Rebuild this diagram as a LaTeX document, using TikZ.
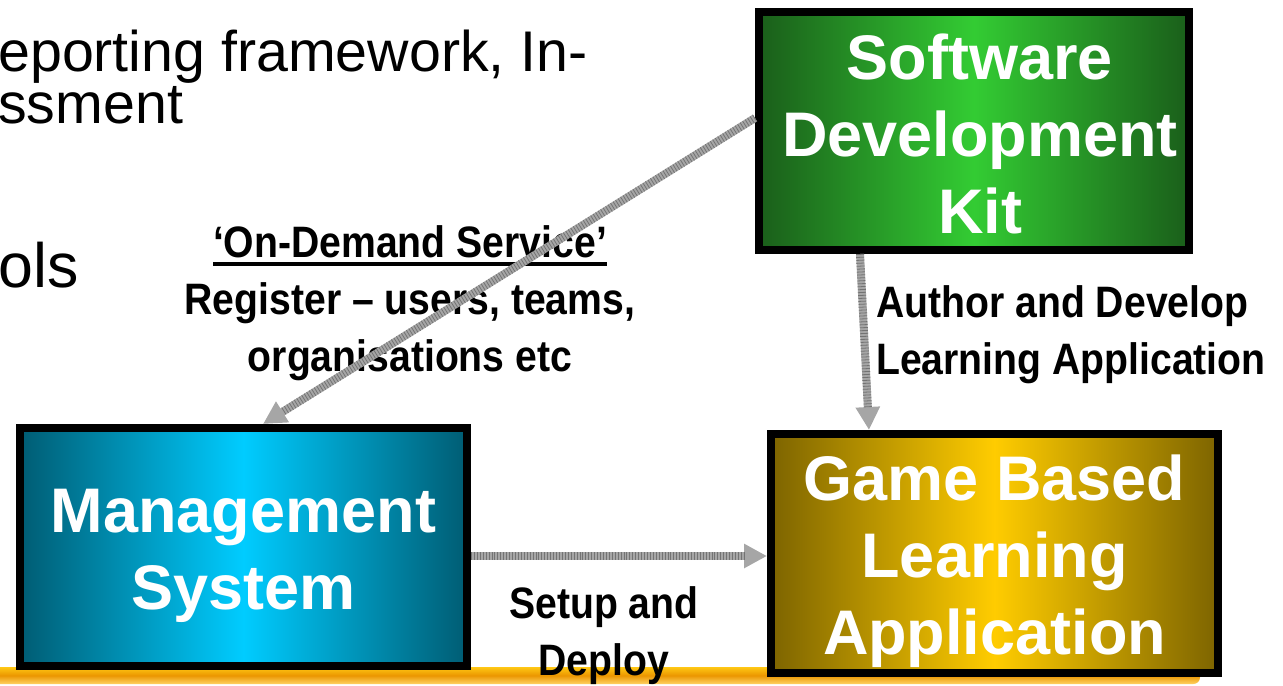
\documentclass[tikz,border=0pt]{standalone}
\usepackage{fontspec}
\setmainfont{Liberation Sans}
\newfontfamily\bodyfont{Liberation Sans}
\newfontfamily\labelfont{Liberation Sans}[FakeStretch=0.89]
\usetikzlibrary{arrows.meta,calc}

\definecolor{sdkdark}{RGB}{26,94,26}
\definecolor{sdklight}{RGB}{51,204,51}
\definecolor{msdark}{RGB}{0,92,115}
\definecolor{mslight}{RGB}{0,204,255}
\definecolor{gbdark}{RGB}{125,100,0}
\definecolor{gblight}{RGB}{255,204,0}
\definecolor{barhi}{RGB}{255,200,20}
\definecolor{barmid}{RGB}{235,150,0}
\definecolor{barlo}{RGB}{255,210,100}

% underlined heading with a heavy rule
\newcommand\heavyul[1]{\setbox0=\hbox{#1}\rlap{\rule[-6.5pt]{\wd0}{2.6pt}}\box0}

\tikzset{
  blockbox/.style={draw=black, line width=6pt, inner sep=0pt},
  blocktext/.style={align=center, text=white, inner sep=0pt,
    font=\fontsize{47.25pt}{57.75pt}\selectfont\bfseries},
  lab/.style={inner sep=0pt, text=black,
    font=\labelfont\fontsize{33pt}{42.75pt}\selectfont\bfseries},
  bodytext/.style={inner sep=0pt, text=black,
    font=\bodyfont\fontsize{43pt}{44pt}\selectfont},
  flowbase/.style={line width=6pt, draw=gray!70,
    -{Triangle[width=17.25pt,length=17.25pt]}},
  flowtex/.style={line width=6pt, draw=black!55, dash pattern=on 0.6pt off 1.6pt,
    shorten >=17pt}
}

\begin{document}
\begin{tikzpicture}[x=0.75pt,y=-0.75pt]
\useasboundingbox (0,0) rectangle (1283,686);

% orange rule along the bottom
\shade[top color=barhi, bottom color=barlo, middle color=barmid, rounded corners=5]
  (-20,667) rectangle (1200,684);

% slide text behind the diagram
\node[bodytext, anchor=base west] (rep1) at (-2,71) {eporting framework, In-};
\node[bodytext, anchor=base west] (rep2) at (-2,123) {ssment};
\node[bodytext, anchor=base west, font=\bodyfont\fontsize{47pt}{48pt}\selectfont]
  (tools) at (-2,287) {ols};

% the three blocks
\node[blockbox, minimum width=322.5pt, minimum height=178.5pt,
  left color=sdkdark, right color=sdkdark, middle color=sdklight]
  (sdk) at (974,131) {};
\node[blockbox, minimum width=335.25pt, minimum height=178.5pt,
  left color=msdark, right color=msdark, middle color=mslight]
  (mgmt) at (243.5,547) {};
\node[blockbox, minimum width=335.25pt, minimum height=179.25pt,
  left color=gbdark, right color=gbdark, middle color=gblight]
  (game) at (994.5,553.5) {};

\node[blocktext] (sdktext) at ($(sdk.center)+(6,3)$) {Software\\Development\\Kit};
\node[blocktext] (mgmttext) at ($(mgmt.center)+(0,9)$) {Management\\System};
\node[blocktext] (gametext) at ($(game.center)+(0,8)$) {Game Based\\Learning\\Application};

% connector labels
\node[lab, align=center] (svc) at (410,303)
  {\heavyul{‘On-Demand Service’}\\Register – users, teams,\\organisations etc};
\node[lab, align=left, anchor=west] (author) at (876,335)
  {Author and Develop\\Learning Application};
\node[lab, align=center] (deploy) at (604,636) {Setup and\\Deploy};

% connectors
\coordinate (a1) at ($(sdk.west)+(0,-13)$);
\coordinate (a2) at ($(mgmt.north)+(19.5,0)$);
\coordinate (b1) at ($(sdk.south)+(-114,0)$);
\coordinate (b2) at ($(game.north)+(-125.5,0)$);
\coordinate (c1) at ($(mgmt.east)+(0,9)$);
\coordinate (c2) at ($(game.west)+(0,2.5)$);

\draw[flowbase] (a1) -- (a2);
\draw[flowtex] (a1) -- (a2);
\draw[flowbase] (b1) -- (b2);
\draw[flowtex] (b1) -- (b2);
\draw[flowbase] (c1) -- (c2);
\draw[flowtex] (c1) -- (c2);
\end{tikzpicture}
\end{document}
